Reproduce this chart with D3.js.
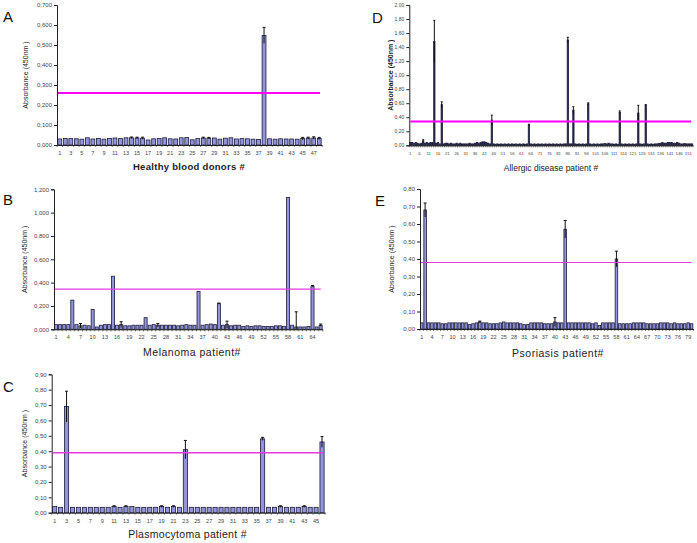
<!DOCTYPE html>
<html>
<head>
<meta charset="utf-8">
<script src="https://cdn.jsdelivr.net/npm/d3@7"></script>
<style>
  body { margin: 0; background: #fff; }
  svg { display: block; }
</style>
</head>
<body>
<svg id="fig" width="697" height="543"></svg>
<script>
//Absorbance values (450nm), one entry per patient
const healthyDonors = [
  0.030, 0.033, 0.032, 0.031, 0.029, 0.036, 0.030, 0.033, 0.029, 0.033,
  0.035, 0.032, 0.036, 0.036, 0.035, 0.034, 0.025, 0.031, 0.033, 0.036,
  0.031, 0.030, 0.036, 0.037, 0.026, 0.032, 0.035, 0.034, 0.035, 0.029,
  0.034, 0.036, 0.030, 0.032, 0.031, 0.029, 0.028, 0.548, 0.031, 0.029,
  0.031, 0.030, 0.030, 0.029, 0.032, 0.034, 0.035, 0.033
]
const healthyErrIdx = [14, 15, 16, 27, 28, 38, 45, 46, 47, 48]
const healthyErrVal = [0.004, 0.004, 0.005, 0.004, 0.004, 0.040, 0.006, 0.005, 0.006, 0.005]
const healthyCutoff = 0.26

const melanoma = [
  0.040, 0.040, 0.040, 0.040, 0.250, 0.040, 0.030, 0.035, 0.030, 0.170,
  0.020, 0.035, 0.040, 0.040, 0.455, 0.035, 0.040, 0.030, 0.030, 0.035,
  0.035, 0.035, 0.100, 0.035, 0.040, 0.035, 0.035, 0.035, 0.035, 0.035,
  0.030, 0.035, 0.040, 0.035, 0.035, 0.325, 0.035, 0.040, 0.045, 0.040,
  0.220, 0.035, 0.040, 0.030, 0.035, 0.035, 0.025, 0.030, 0.025, 0.030,
  0.030, 0.025, 0.025, 0.025, 0.030, 0.030, 0.025, 1.130, 0.035, 0.020,
  0.020, 0.020, 0.025, 0.370, 0.020, 0.035
]
const melanomaErrIdx = [7, 17, 26, 41, 43, 60, 64, 66]
const melanomaErrVal = [0.020, 0.025, 0.015, 0.005, 0.030, 0.130, 0.005, 0.010]
const melanomaCutoff = 0.345

const plasmocytoma = [
  0.040, 0.035, 0.690, 0.035, 0.035, 0.035, 0.035, 0.035, 0.035, 0.035,
  0.040, 0.035, 0.040, 0.040, 0.035, 0.035, 0.035, 0.035, 0.040, 0.035,
  0.040, 0.035, 0.410, 0.035, 0.035, 0.035, 0.035, 0.035, 0.035, 0.035,
  0.035, 0.035, 0.035, 0.035, 0.035, 0.480, 0.035, 0.035, 0.040, 0.035,
  0.035, 0.035, 0.040, 0.035, 0.035, 0.460
]
const plasmocytomaErrIdx = [3, 11, 13, 19, 21, 23, 36, 39, 43, 46]
const plasmocytomaErrVal = [0.100, 0.005, 0.005, 0.005, 0.005, 0.060, 0.010, 0.005, 0.005, 0.035]
const plasmocytomaCutoff = 0.39

const allergic = [
  0.040, 0.040, 0.030, 0.040, 0.030, 0.020, 0.030, 0.060, 0.030, 0.040,
  0.030, 0.040, 0.040, 1.480, 0.030, 0.040, 0.020, 0.580, 0.020, 0.030,
  0.030, 0.020, 0.030, 0.020, 0.020, 0.030, 0.020, 0.030, 0.020, 0.020,
  0.020, 0.020, 0.030, 0.020, 0.020, 0.030, 0.040, 0.030, 0.040, 0.050,
  0.050, 0.040, 0.030, 0.020, 0.360, 0.020, 0.015, 0.020, 0.015, 0.020,
  0.015, 0.020, 0.015, 0.020, 0.015, 0.020, 0.015, 0.020, 0.015, 0.020,
  0.015, 0.020, 0.015, 0.020, 0.290, 0.020, 0.015, 0.020, 0.015, 0.020,
  0.015, 0.020, 0.015, 0.020, 0.015, 0.020, 0.015, 0.020, 0.015, 0.020,
  0.015, 0.020, 0.015, 0.020, 0.020, 1.500, 0.020, 0.020, 0.500, 0.020,
  0.015, 0.020, 0.015, 0.020, 0.015, 0.020, 0.590, 0.020, 0.015, 0.020,
  0.015, 0.020, 0.015, 0.020, 0.020, 0.025, 0.020, 0.030, 0.020, 0.020,
  0.015, 0.020, 0.015, 0.470, 0.020, 0.015, 0.020, 0.015, 0.020, 0.015,
  0.020, 0.015, 0.020, 0.460, 0.020, 0.015, 0.020, 0.570, 0.020, 0.015,
  0.020, 0.015, 0.020, 0.020, 0.025, 0.030, 0.040, 0.030, 0.030, 0.040,
  0.040, 0.040, 0.030, 0.030, 0.040, 0.030, 0.020, 0.020, 0.025, 0.020,
  0.020, 0.020, 0.020
]
const allergicErrIdx = [8, 14, 18, 45, 65, 86, 89, 97, 114, 124, 128]
const allergicErrVal = [0.020, 0.300, 0.040, 0.070, 0.010, 0.040, 0.050, 0.015, 0.020, 0.110, 0.010]
const allergicCutoff = 0.34

const psoriasis = [
  0.035, 0.680, 0.035, 0.035, 0.035, 0.035, 0.030, 0.030, 0.035, 0.035,
  0.035, 0.035, 0.035, 0.035, 0.025, 0.030, 0.035, 0.040, 0.035, 0.035,
  0.030, 0.030, 0.030, 0.035, 0.040, 0.035, 0.035, 0.035, 0.035, 0.030,
  0.025, 0.025, 0.035, 0.035, 0.035, 0.035, 0.030, 0.030, 0.030, 0.040,
  0.035, 0.035, 0.570, 0.035, 0.035, 0.035, 0.035, 0.035, 0.035, 0.035,
  0.030, 0.035, 0.020, 0.035, 0.035, 0.035, 0.035, 0.400, 0.030, 0.030,
  0.030, 0.030, 0.035, 0.035, 0.035, 0.035, 0.030, 0.030, 0.030, 0.030,
  0.035, 0.035, 0.035, 0.030, 0.035, 0.030, 0.030, 0.030, 0.035, 0.030
]
const psoriasisErrIdx = [2, 18, 40, 43, 58]
const psoriasisErrVal = [0.040, 0.005, 0.025, 0.050, 0.045]
const psoriasisCutoff = 0.38

//y-axis ticks of each panel
const ticksA = [0, 0.1, 0.2, 0.3, 0.4, 0.5, 0.6, 0.7]
const ticksB = [0, 0.2, 0.4, 0.6, 0.8, 1.0, 1.2]
const ticksC = [0, 0.1, 0.2, 0.3, 0.4, 0.5, 0.6, 0.7, 0.8, 0.9]
const ticksD = [0, 0.2, 0.4, 0.6, 0.8, 1.0, 1.2, 1.4, 1.6, 1.8, 2.0]
const ticksE = [0, 0.1, 0.2, 0.3, 0.4, 0.5, 0.6, 0.7, 0.8]

const yLabel = "Absorbance (450nm )"
const font = "'Liberation Sans', Arial, sans-serif"

const svg = d3.select("#fig")

//Draws one bar chart panel with its error bars and cut-off line
function drawPanel(p) {
  const n = p.values.length
  const cats = d3.range(1, n + 1)

  const xScale = d3.scaleBand()
    .domain(cats)
    .range([p.x0, p.x1])
    .paddingInner(p.pad)
    .paddingOuter(p.pad / 2)

  const yScale = d3.scaleLinear()
    .domain([0, p.ticks[p.ticks.length - 1]])
    .range([p.y0, p.yTop])

  const g = svg.append("g")

  //bars
  g.append("g")
    .selectAll("rect")
    .data(p.values)
    .enter()
    .append("rect")
    .attr("x", (d, i) => xScale(i + 1))
    .attr("y", d => yScale(d))
    .attr("width", xScale.bandwidth())
    .attr("height", d => p.y0 - yScale(d))
    .attr("fill", p.barFill)
    .attr("stroke", "#1c1c3c")
    .attr("stroke-width", p.barStroke)

  //error bars
  const errs = p.errIdx.map((k, i) => ({ k: k, v: p.values[k - 1], e: p.errVal[i] }))
  const eg = g.append("g")
    .attr("stroke", "#111")
    .attr("stroke-width", 1)
  const cx = d => xScale(d.k) + xScale.bandwidth() / 2
  eg.selectAll("line.v")
    .data(errs)
    .enter()
    .append("line")
    .attr("x1", cx).attr("x2", cx)
    .attr("y1", d => yScale(Math.max(0, d.v - d.e)))
    .attr("y2", d => yScale(d.v + d.e))
  eg.selectAll("line.t")
    .data(errs)
    .enter()
    .append("line")
    .attr("x1", d => cx(d) - p.cap).attr("x2", d => cx(d) + p.cap)
    .attr("y1", d => yScale(d.v + d.e))
    .attr("y2", d => yScale(d.v + d.e))

  //y axis
  const yAxis = d3.axisLeft(yScale)
    .tickValues(p.ticks)
    .tickSize(3)
    .tickFormat(d => d.toFixed(p.dec).replace(".", ","))
  const ya = g.append("g")
    .attr("transform", "translate(" + p.x0 + ",0)")
    .call(yAxis)
  ya.select(".domain").attr("stroke", "#222")
  ya.selectAll(".tick line").attr("stroke", "#222")
  ya.selectAll("text")
    .attr("font-family", font)
    .attr("font-size", p.yTickSize)
    .attr("fill", "#444")
    .attr("x", -5)

  //x axis: labels on every k-th patient, marks between categories
  const xAxis = d3.axisBottom(xScale)
    .tickValues(cats.filter(c => (c - 1) % p.every === 0))
    .tickSize(0)
    .tickSizeOuter(0)
  const xa = g.append("g")
    .attr("transform", "translate(0," + p.y0 + ")")
    .call(xAxis)
  xa.select(".domain").attr("stroke", "#222")
  xa.selectAll("text")
    .attr("font-family", font)
    .attr("font-size", p.xTickSize)
    .attr("fill", "#444")
    .attr("dy", 0)
    .attr("y", 10)
  g.append("g")
    .selectAll("line")
    .data(cats.concat([n + 1]))
    .enter()
    .append("line")
    .attr("x1", c => c > n ? p.x1 : xScale(c) - xScale.step() * p.pad / 2)
    .attr("x2", c => c > n ? p.x1 : xScale(c) - xScale.step() * p.pad / 2)
    .attr("y1", p.y0)
    .attr("y2", p.y0 + 2)
    .attr("stroke", "#222")
    .attr("stroke-width", 0.6)

  //cut-off line
  g.append("line")
    .attr("x1", p.x0 + 1)
    .attr("x2", p.x1 - 2)
    .attr("y1", yScale(p.cutoff))
    .attr("y2", yScale(p.cutoff))
    .attr("stroke", p.cutColor)
    .attr("stroke-width", p.cutWidth)

  //axis titles and panel letter
  g.append("text")
    .attr("transform", "translate(" + p.yLabX + "," + (p.y0 + p.yTop) / 2 + ") rotate(-90)")
    .attr("text-anchor", "middle")
    .attr("font-family", font)
    .attr("font-size", 7)
    .attr("font-weight", p.yBold ? "bold" : "normal")
    .attr("fill", "#222")
    .text(yLabel)
  g.append("text")
    .attr("x", p.titleX)
    .attr("y", p.titleY)
    .attr("text-anchor", "middle")
    .attr("font-family", font)
    .attr("font-size", p.titleSize)
    .attr("font-weight", p.titleBold ? "bold" : "normal")
    .attr("letter-spacing", p.titleSpacing)
    .attr("fill", "#222")
    .text(p.title)
  g.append("text")
    .attr("x", p.letterX)
    .attr("y", p.letterY)
    .attr("font-family", font)
    .attr("font-size", 15)
    .attr("fill", "#111")
    .text(p.letter)
}

drawPanel({
  letter: "A", letterX: 3, letterY: 22,
  values: healthyDonors, errIdx: healthyErrIdx, errVal: healthyErrVal, cutoff: healthyCutoff,
  ticks: ticksA, dec: 3, every: 2, yTickSize: 6, xTickSize: 5.5,
  x0: 57, x1: 322, yTop: 5, y0: 145, pad: 0.3, cap: 1.5, barStroke: 0.8, barFill: "#9494dc",
  cutColor: "#ff00ff", cutWidth: 2,
  yLabX: 28, yBold: false,
  title: "Healthy blood donors #", titleX: 189, titleY: 170, titleSize: 9.5, titleBold: true, titleSpacing: 0.3
})

drawPanel({
  letter: "B", letterX: 3, letterY: 205,
  values: melanoma, errIdx: melanomaErrIdx, errVal: melanomaErrVal, cutoff: melanomaCutoff,
  ticks: ticksB, dec: 3, every: 3, yTickSize: 6, xTickSize: 5.5,
  x0: 54, x1: 322.7, yTop: 189.3, y0: 329.3, pad: 0.25, cap: 1.5, barStroke: 0.8, barFill: "#9494dc",
  cutColor: "#e33be3", cutWidth: 1.2,
  yLabX: 27, yBold: false,
  title: "Melanoma patient#", titleX: 192, titleY: 356, titleSize: 10.5, titleBold: false, titleSpacing: 0.5
})

drawPanel({
  letter: "C", letterX: 3, letterY: 392,
  values: plasmocytoma, errIdx: plasmocytomaErrIdx, errVal: plasmocytomaErrVal, cutoff: plasmocytomaCutoff,
  ticks: ticksC, dec: 2, every: 2, yTickSize: 6, xTickSize: 5.5,
  x0: 51.7, x1: 325, yTop: 374.3, y0: 512.7, pad: 0.3, cap: 1.5, barStroke: 0.8, barFill: "#9494dc",
  cutColor: "#e33be3", cutWidth: 1.5,
  yLabX: 27, yBold: false,
  title: "Plasmocytoma patient #", titleX: 187.5, titleY: 538, titleSize: 10.5, titleBold: false, titleSpacing: 0.3
})

drawPanel({
  letter: "D", letterX: 372, letterY: 23,
  values: allergic, errIdx: allergicErrIdx, errVal: allergicErrVal, cutoff: allergicCutoff,
  ticks: ticksD, dec: 2, every: 5, yTickSize: 5, xTickSize: 4.3,
  x0: 409.3, x1: 693, yTop: 5, y0: 145.3, pad: 0.3, cap: 1, barStroke: 0.8, barFill: "#2a2a4a",
  cutColor: "#ff00ff", cutWidth: 2,
  yLabX: 393, yBold: true,
  title: "Allergic disease patient #", titleX: 551, titleY: 171, titleSize: 8.5, titleBold: false, titleSpacing: 0
})

drawPanel({
  letter: "E", letterX: 375, letterY: 206,
  values: psoriasis, errIdx: psoriasisErrIdx, errVal: psoriasisErrVal, cutoff: psoriasisCutoff,
  ticks: ticksE, dec: 2, every: 3, yTickSize: 6, xTickSize: 5.5,
  x0: 420, x1: 693.3, yTop: 189, y0: 329, pad: 0.25, cap: 1.5, barStroke: 0.8, barFill: "#9494dc",
  cutColor: "#e33be3", cutWidth: 1.2,
  yLabX: 394, yBold: false,
  title: "Psoriasis patient#", titleX: 558, titleY: 357, titleSize: 10.5, titleBold: false, titleSpacing: 0.5
})
</script>
</body>
</html>
